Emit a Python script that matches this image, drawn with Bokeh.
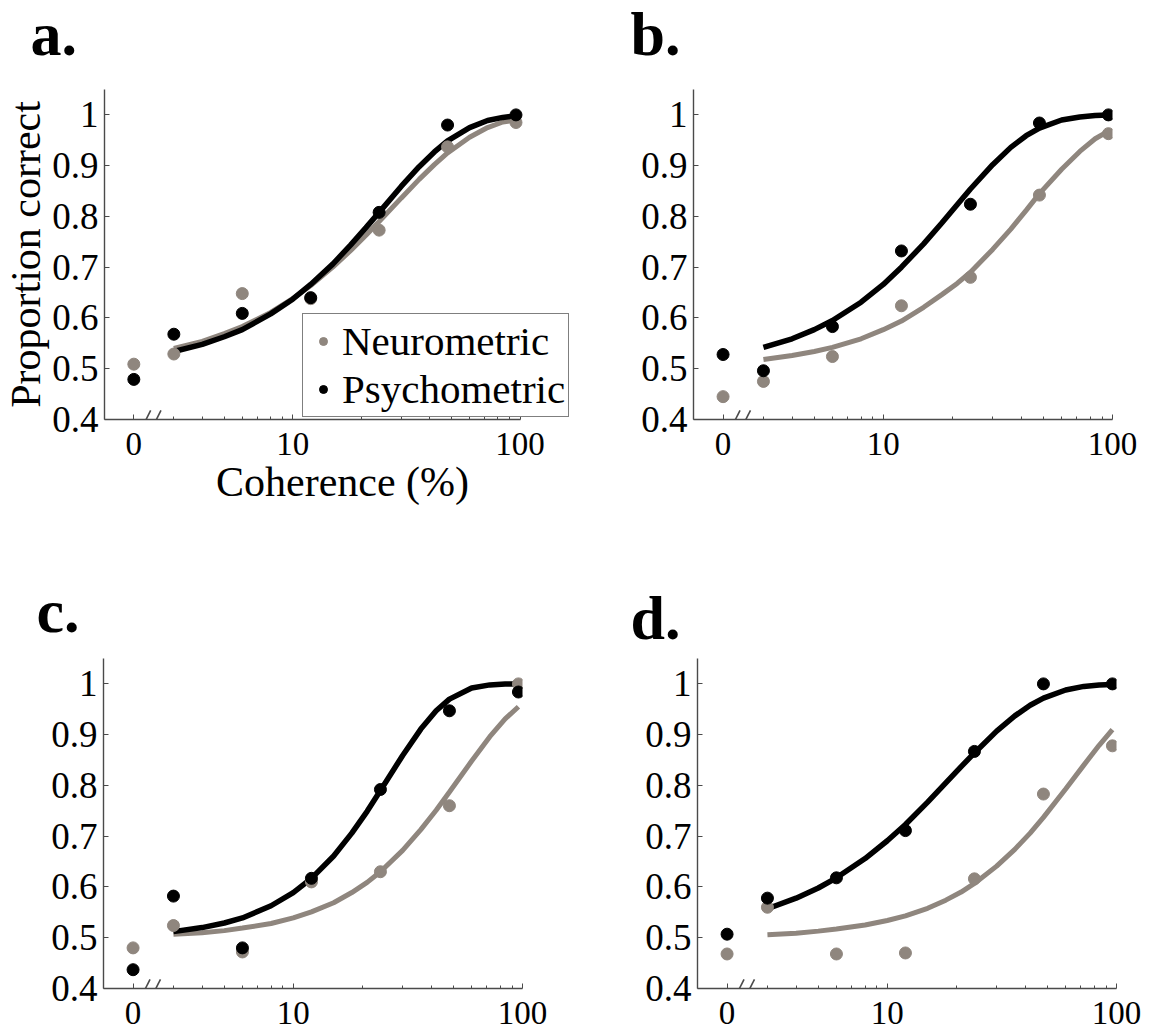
import math
from bokeh.plotting import figure
from bokeh.models import FixedTicker, Legend, LegendItem, Arrow, Range1d
from bokeh.core.properties import value
from bokeh.layouts import column, row
from bokeh.embed import file_html
from bokeh.resources import INLINE

# ---------------- data ----------------
coherence = [0, 3, 6, 12, 24, 48, 96]            # % coherence of the data points
zero_position = 2                                  # 0 % is drawn at the 2 % place of the log axis
curve_coherence = [3, 4, 5, 6, 8, 10, 12, 15, 18, 21, 24, 30, 36, 42, 48, 60, 72, 84, 96]

neuro_a = [0.509, 0.529, 0.648, 0.638, 0.773, 0.937, 0.985]
psycho_a = [0.479, 0.568, 0.609, 0.640, 0.808, 0.980, 1.000]
neuro_b = [0.445, 0.475, 0.524, 0.624, 0.680, 0.842, 0.963]
psycho_b = [0.528, 0.496, 0.583, 0.732, 0.824, 0.984, 1.000]
neuro_c = [0.480, 0.524, 0.472, 0.610, 0.630, 0.760, 1.000]
psycho_c = [0.437, 0.582, 0.480, 0.617, 0.792, 0.947, 0.984]
neuro_d = [0.468, 0.560, 0.468, 0.470, 0.616, 0.783, 0.878]
psycho_d = [0.507, 0.578, 0.618, 0.711, 0.867, 1.000, 1.000]

neuro_fit_a = [0.540, 0.554, 0.569, 0.583, 0.611, 0.638, 0.664, 0.700, 0.733, 0.763,
               0.790, 0.836, 0.873, 0.902, 0.925, 0.956, 0.975, 0.986, 0.990]
psycho_fit_a = [0.534, 0.548, 0.563, 0.577, 0.608, 0.637, 0.666, 0.706, 0.744, 0.778,
                0.808, 0.859, 0.898, 0.927, 0.949, 0.975, 0.989, 0.995, 0.998]
neuro_fit_b = [0.518, 0.526, 0.534, 0.542, 0.559, 0.577, 0.594, 0.621, 0.646, 0.668,
               0.690, 0.735, 0.775, 0.812, 0.845, 0.893, 0.928, 0.953, 0.968]
psycho_fit_b = [0.542, 0.559, 0.577, 0.595, 0.631, 0.666, 0.700, 0.746, 0.787, 0.823,
                0.854, 0.902, 0.936, 0.959, 0.974, 0.990, 0.996, 0.999, 1.000]
neuro_fit_c = [0.507, 0.510, 0.514, 0.519, 0.528, 0.539, 0.551, 0.569, 0.589, 0.609,
               0.630, 0.672, 0.713, 0.751, 0.787, 0.848, 0.896, 0.931, 0.955]
psycho_fit_c = [0.512, 0.520, 0.529, 0.539, 0.563, 0.589, 0.617, 0.661, 0.706, 0.749,
                0.790, 0.859, 0.911, 0.947, 0.970, 0.992, 0.998, 1.000, 1.000]
neuro_fit_d = [0.506, 0.509, 0.513, 0.517, 0.525, 0.534, 0.543, 0.558, 0.574, 0.590,
               0.607, 0.641, 0.674, 0.706, 0.737, 0.793, 0.840, 0.879, 0.910]
psycho_fit_d = [0.557, 0.578, 0.598, 0.618, 0.656, 0.691, 0.723, 0.767, 0.805, 0.837,
                0.864, 0.907, 0.937, 0.958, 0.972, 0.988, 0.995, 0.998, 0.999]

panel_letters = ["a.", "b.", "c.", "d."]
series_names = ["Neurometric", "Psychometric"]
x_ticks = [2, 10, 100]
x_tick_labels = ["0", "10", "100"]
x_minor_ticks = [3, 4, 5, 6, 7, 8, 9, 20, 30, 40, 50, 60, 70, 80, 90]
y_ticks = [0.4, 0.5, 0.6, 0.7, 0.8, 0.9, 1.0]
y_tick_labels = ["0.4", "0.5", "0.6", "0.7", "0.8", "0.9", "1"]
x_title = "Coherence (%)"
y_title = "Proportion correct"
axis_break_at = [2.27, 2.52]   # positions of the two "//" strokes on the x axis

# ---------------- styling ----------------
FONT = "Liberation Serif"
GRAY = "#8f867e"
BLACK = "#000000"
AXIS = "#4a4a4a"
FRAME_W, FRAME_H = 419, 330
X_LO, X_HI = 10 ** 0.172, 100
PX_PER_DECADE = FRAME_W / (2 - 0.172)
Y_LO, Y_HI = 0.4, 1.05


def header(letters, xs, ys, width, height):
    h = figure(width=width, height=height, title=None, x_range=Range1d(0, width),
               y_range=Range1d(height, 0), output_backend="svg",
               toolbar_location=None, min_border=0,
               x_axis_location=None, y_axis_location=None)
    h.outline_line_color = None
    h.xgrid.visible = False
    h.ygrid.visible = False
    h.text(x=xs, y=ys, text=letters, text_font=value(FONT), text_font_size="62px",
           text_font_style="bold", text_color="black", text_baseline="middle")
    return h


def panel(neuro, psycho, neuro_fit, psycho_fit, width, height, left, top,
          frame_w=FRAME_W, titles=False, legend=False):
    right = width - left - frame_w
    bottom = height - top - FRAME_H
    x_end = 10 ** (math.log10(X_LO) + frame_w / PX_PER_DECADE)
    p = figure(width=width, height=height, title=None, x_axis_type="log",
               x_range=Range1d(X_LO, x_end), y_range=Range1d(Y_LO, Y_HI),
               output_backend="svg", toolbar_location=None,
               min_border_left=left, min_border_right=right,
               min_border_top=top, min_border_bottom=bottom)
    p.outline_line_color = None
    p.xgrid.visible = False
    p.ygrid.visible = False

    xs = [zero_position if c == 0 else c for c in coherence]

    p.line(curve_coherence, neuro_fit, line_color=GRAY, line_width=5)
    p.line(curve_coherence, psycho_fit, line_color=BLACK, line_width=5.5)
    g = p.scatter(xs, neuro, size=12, color=GRAY)
    k = p.scatter(xs, psycho, size=12, color=BLACK)

    for ax in (p.xaxis[0], p.yaxis[0]):
        ax.axis_line_color = AXIS
        ax.axis_line_width = 1.4
        ax.major_tick_line_color = AXIS
        ax.minor_tick_line_color = AXIS
        ax.major_tick_in = 5
        ax.major_tick_out = 0
        ax.minor_tick_in = 3
        ax.minor_tick_out = 0
        ax.major_label_text_font = FONT
        ax.major_label_text_color = "black"
        ax.axis_label_text_font = FONT
        ax.axis_label_text_font_style = "normal"
        ax.axis_label_text_font_size = "42px"
        ax.axis_label_text_color = "black"

    p.xaxis.bounds = (X_LO, X_HI)
    p.xaxis.ticker = FixedTicker(ticks=x_ticks, minor_ticks=x_minor_ticks)
    p.xaxis.major_label_overrides = dict(zip(x_ticks, x_tick_labels))
    p.xaxis.major_label_text_font_size = "33px"
    p.xaxis.major_label_standoff = 13
    p.yaxis.ticker = FixedTicker(ticks=y_ticks, minor_ticks=[])
    p.yaxis.major_label_overrides = dict(zip(y_ticks, y_tick_labels))
    p.yaxis.major_label_text_font_size = "37px"
    p.yaxis.major_label_standoff = 6

    if titles:
        p.xaxis.axis_label = x_title
        p.xaxis.axis_label_standoff = 1
        p.yaxis.axis_label = y_title
        p.yaxis.axis_label_standoff = 0

    # axis break "//"
    for bx in axis_break_at:
        p.add_layout(Arrow(end=None, x_start=bx / 1.045, y_start=Y_LO - 0.016,
                           x_end=bx * 1.045, y_end=Y_LO + 0.018,
                           line_color=AXIS, line_width=1.6))

    if legend:
        lg = Legend(items=[LegendItem(label=series_names[0], renderers=[g]),
                           LegendItem(label=series_names[1], renderers=[k])],
                    location=(198, 2))
        lg.label_text_font = FONT
        lg.label_text_font_size = "41px"
        lg.label_text_color = "black"
        lg.label_height = 20
        lg.glyph_height = 20
        lg.glyph_width = 34
        lg.label_standoff = 2
        lg.spacing = 0
        lg.padding = 3
        lg.margin = 0
        lg.border_line_color = "black"
        lg.border_line_width = 1
        lg.background_fill_color = "white"
        lg.background_fill_alpha = 1
        p.add_layout(lg)
    return p


top_header = header(panel_letters[:2], [30, 630], [33, 33], 1168, 70)
pa = panel(neuro_a, psycho_a, neuro_fit_a, psycho_fit_a,
           593, 505, 100, 19, frame_w=480, titles=True, legend=True)
pb = panel(neuro_b, psycho_b, neuro_fit_b, psycho_fit_b,
           575, 505, 100, 19)
bottom_header = header(panel_letters[2:], [36, 630], [35, 42], 1168, 80)
pc = panel(neuro_c, psycho_c, neuro_fit_c, psycho_fit_c,
           593, 375, 103, 3)
pd = panel(neuro_d, psycho_d, neuro_fit_d, psycho_fit_d,
           575, 375, 104, 3)

layout = column(top_header, row(pa, pb), bottom_header, row(pc, pd))
open("out.html", "w").write(file_html(layout, INLINE))
